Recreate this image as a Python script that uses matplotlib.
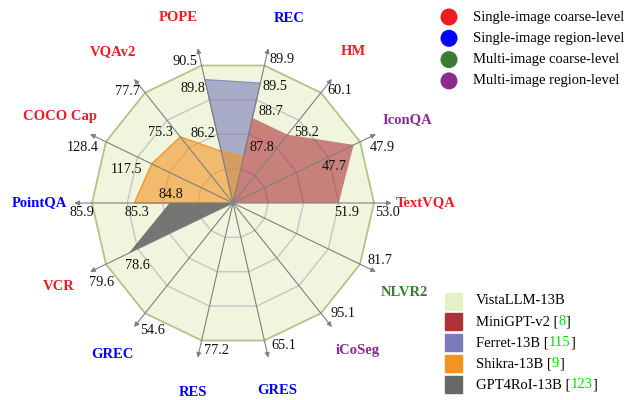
import numpy as np
import matplotlib
matplotlib.use("Agg")
import matplotlib.pyplot as plt
from matplotlib.patches import Rectangle

plt.rcParams['font.family'] = ['Liberation Serif', 'DejaVu Serif']

# Tasks, counterclockwise starting at 3 o'clock
tasks = ['TextVQA', 'IconQA', 'HM', 'REC', 'POPE', 'VQAv2', 'COCO Cap',
         'PointQA', 'VCR', 'GREC', 'RES', 'GRES', 'iCoSeg', 'NLVR2']
task_group = [0, 3, 0, 1, 0, 0, 0, 1, 0, 1, 1, 1, 3, 2]

# centre value of every spoke (spoke end = VistaLLM score)
axis_min = [48.6, 43.9, 55.1, 86.75, 83.6, 71.7, 98.1, 83.9, 74.0, 40.0, 60.0, 50.0, 80.0, 70.0]

nan = np.nan
vistallm = [53.0, 47.9, 60.1, 89.9, 90.5, 77.7, 128.4, 85.9, 79.6, 54.6, 77.2, 65.1, 95.1, 81.7]
minigpt = [51.9, 47.7, 58.2, 88.7, nan, nan, nan, nan, nan, nan, nan, nan, nan, nan]
ferret = [nan, nan, nan, 89.5, 89.8, nan, nan, nan, nan, nan, nan, nan, nan, nan]
shikra = [nan, nan, nan, 87.8, 86.2, 75.3, 117.5, 85.3, nan, nan, nan, nan, nan, nan]
gpt4roi = [nan, nan, nan, nan, nan, nan, nan, 84.8, 78.6, nan, nan, nan, nan, nan]

group_names = ['Single-image coarse-level', 'Single-image region-level',
               'Multi-image coarse-level', 'Multi-image region-level']
group_colors = ['#ed1c24', '#0000ff', '#3a7d32', '#8c2a8e']

model_names = ['VistaLLM-13B', 'MiniGPT-v2', 'Ferret-13B', 'Shikra-13B', 'GPT4RoI-13B']
model_refs = ['', '8', '115', '9', '123']
model_colors = ['#e6f0c6', '#ad3138', '#7b7bb8', '#f49322', '#686868']

# label offsets in pixels (dx, dy up)
vista_off = [(13, -9), (22, -6), (19, 2), (18, 6), (-17, 4), (-18, 1), (-23, -6),
             (-10, -10), (-4, -18), (7, -17), (15, -10), (19, -5), (22, 0), (20, 4)]
minigpt_off = {0: (8, -9), 1: (-19, -22), 2: (19, 2), 3: (18, 6)}
ferret_off = {3: (15, -4), 4: (-12, -9)}
shikra_off = {3: (18, 10), 4: (-18, 18), 5: (-20, 4), 6: (-25, -6), 7: (3, -10)}
gpt4roi_off = {7: (1, 8), 8: (9, -12)}
label_nudge = [0, 0, 0, -4, 3.5, 0, -1, 0, 0, 0, 1, 0.5, 1.5, -2]

n = len(tasks)
theta = np.arange(n) * 2 * np.pi / n
lo = np.array(axis_min)
hi = np.array(vistallm)


def radius(vals):
    r = (np.array(vals, dtype=float) - lo) / (hi - lo)
    return np.nan_to_num(r, nan=0.0)


def xy(r):
    return r * np.cos(theta), r * np.sin(theta)


fig = plt.figure(figsize=(6.35, 4.0), dpi=100)
R = 141.0
ax = fig.add_axes([0, 0, 1, 1])
ax.set_xlim(-233 / R, 402 / R)
ax.set_ylim(-197 / R, 203 / R)
ax.axis('off')

# VistaLLM polygon
x, y = xy(radius(vistallm))
ax.fill(x, y, color='#eff6dd', zorder=1)
ax.plot(np.append(x, x[0]), np.append(y, y[0]), color='#b5c38a', lw=1.3, zorder=5)

# grid rings
for g in [0.25, 0.5, 0.75]:
    gx, gy = xy(np.full(n, g))
    ax.plot(np.append(gx, gx[0]), np.append(gy, gy[0]), color='#c6c6c6', lw=1.0, zorder=2)

# other models
x, y = xy(radius(minigpt))
ax.fill(x, y, color='#ad3138', alpha=0.6, lw=0, zorder=3)
x, y = xy(radius(ferret))
ax.fill(x, y, facecolor='#7b7bb8', alpha=0.6, edgecolor='#5c5cb0', lw=0.8, zorder=3)
x, y = xy(radius(shikra))
ax.fill(x, y, facecolor='#f49322', alpha=0.6, lw=0, zorder=3)
ax.plot(np.append(x, x[0]), np.append(y, y[0]), color='#f49322', lw=0.9, zorder=3)
x, y = xy(radius(gpt4roi))
ax.fill(x, y, color='#686868', alpha=0.9, lw=0, zorder=3)

# spokes with arrow heads
for t in theta:
    ax.annotate('', xy=(1.125 * np.cos(t), 1.125 * np.sin(t)), xytext=(0, 0),
                arrowprops=dict(arrowstyle='-|>', color='#808080', lw=0.8,
                                mutation_scale=7, shrinkA=0, shrinkB=0),
                zorder=6)

# value labels
def value_labels(vals, offsets):
    r = radius(vals)
    px, py = xy(r)
    for i, off in offsets.items():
        ax.annotate(f'{vals[i]:.1f}', xy=(px[i], py[i]), xytext=off,
                    textcoords='offset pixels', ha='center', va='center',
                    fontsize=10.3, color='#111111', zorder=7)


value_labels(vistallm, dict(enumerate(vista_off)))
value_labels(minigpt, minigpt_off)
value_labels(ferret, ferret_off)
value_labels(shikra, shikra_off)
value_labels(gpt4roi, gpt4roi_off)

# task names
for i, name in enumerate(tasks):
    a = theta[i] + np.deg2rad(label_nudge[i])
    ax.text(1.37 * np.cos(a), 1.37 * np.sin(a), name, ha='center', va='center',
            fontsize=10.5, fontweight='bold', color=group_colors[task_group[i]])

# legends in pixel coordinates
lg = fig.add_axes([0, 0, 1, 1])
lg.set_xlim(0, 635)
lg.set_ylim(400, 0)
lg.axis('off')
lg.patch.set_alpha(0)

for k, name in enumerate(group_names):
    yk = 17 + k * 21.3
    lg.scatter([449], [yk], s=150, color=group_colors[k], edgecolors='none')
    lg.text(473, yk, name, ha='left', va='center', fontsize=10.5)

fig.canvas.draw()
renderer = fig.canvas.get_renderer()
for k, name in enumerate(model_names):
    yk = 301 + k * 20.9
    lg.add_patch(Rectangle((445, yk - 8.5), 17, 17, color=model_colors[k]))
    if model_refs[k] == '':
        lg.text(476, yk, name, ha='left', va='center', fontsize=10.5)
        continue
    xk = 476
    for part, col in [(name + ' [', 'black'), (model_refs[k], '#00e000'), (']', 'black')]:
        t = lg.text(xk, yk, part, ha='left', va='center', fontsize=10.5, color=col)
        bb = t.get_window_extent(renderer)
        xk = bb.x1

fig.savefig('out.png', dpi=100)
